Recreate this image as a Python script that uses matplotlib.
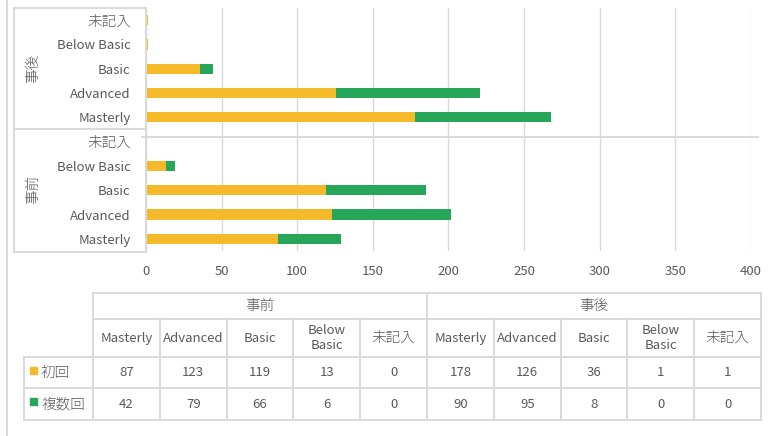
import numpy as np
import matplotlib
matplotlib.use('Agg')
import matplotlib.pyplot as plt
from matplotlib.lines import Line2D
from matplotlib.patches import Rectangle

plt.rcParams['font.family'] = ['Noto Sans CJK JP', 'DejaVu Sans']

# data
groups = ['事前', '事後']
levels = ['Masterly', 'Advanced', 'Basic', 'Below Basic', '未記入']
table_levels = ['Masterly', 'Advanced', 'Basic', 'Below\nBasic', '未記入']
series = ['初回', '複数回']
first_pre = [87, 123, 119, 13, 0]
multi_pre = [42, 79, 66, 6, 0]
first_post = [178, 126, 36, 1, 1]
multi_post = [90, 95, 8, 0, 0]
xticks = [0, 50, 100, 150, 200, 250, 300, 350, 400]

YELLOW = '#F4BA2A'
GREEN = '#27A65A'
TXT = '#595959'
GRID = '#D9D9D9'
FS = 9.5     # latin text
FS_JA = 10.5  # japanese text

W, H = 775, 436
fig = plt.figure(figsize=(W / 100, H / 100), dpi=100)

def px_rect(x0, y0, x1, y1):
    return [x0 / W, 1 - y1 / H, (x1 - x0) / W, (y1 - y0) / H]

def is_ja(s):
    return any(ord(c) > 0x3000 for c in s)

def size_for(s):
    return FS_JA if is_ja(s) else FS

def weight_for(s):
    return 'light' if is_ja(s) else 'normal'

ax = fig.add_axes(px_rect(146, 8, 750.7, 251))

first_all = first_pre + first_post
multi_all = multi_pre + multi_post
ypos = np.arange(len(first_all))
ax.barh(ypos, first_all, height=0.42, color=YELLOW, zorder=3)
ax.barh(ypos, multi_all, left=first_all, height=0.42, color=GREEN, zorder=3)

ax.set_xlim(0, 400)
ax.set_ylim(-0.5, 9.5)
ax.set_xticks(xticks)
ax.set_yticks(ypos)
ax.set_yticklabels(levels + levels)
for lab in ax.get_yticklabels():
    lab.set_fontsize(size_for(lab.get_text()))
    lab.set_fontweight(weight_for(lab.get_text()))
ax.tick_params(axis='x', length=0, pad=10, labelsize=FS, labelcolor=TXT)
ax.tick_params(axis='y', length=0, pad=11, labelcolor=TXT)
ax.grid(axis='x', color=GRID, linewidth=1.0, zorder=0)
for s in ax.spines.values():
    s.set_visible(False)

# overlay in pixel coordinates
ov = fig.add_axes([0, 0, 1, 1], facecolor='none')
ov.set_xlim(0, W)
ov.set_ylim(H, 0)
ov.axis('off')

def hl(x0, x1, y, **kw):
    ov.add_line(Line2D([x0, x1], [y, y], color=GRID, linewidth=1.4, **kw))

def vl(x, y0, y1, **kw):
    ov.add_line(Line2D([x, x], [y0, y1], color=GRID, linewidth=1.4, **kw))

def txt(x, y, s, **kw):
    ov.text(x, y, s, fontsize=size_for(s), fontweight=weight_for(s), color=TXT, **kw)

# chart border left
vl(7, 0, H)

# group label box
hl(14, 146, 8)
hl(14, 146, 129.5)
hl(14, 146, 251.5)
vl(14, 8, 251.5)
vl(146, 8, 251.5)
hl(142, 758, 137.5)
txt(33, 68, groups[1], rotation=90, ha='center', va='center')
txt(33, 189, groups[0], rotation=90, ha='center', va='center')

# data table
tx0, tx1 = 93, 761
lx0 = 24
ncol = 10
cw = (tx1 - tx0) / ncol
r = [293, 319, 357, 388, 420]

hl(tx0, tx1, r[0])
hl(tx0, tx1, r[1])
hl(lx0, tx1, r[2])
hl(lx0, tx1, r[3])
hl(lx0, tx1, r[4])
vl(lx0, r[2], r[4])
vl(tx0, r[0], r[4])
vl(tx1, r[0], r[4])
vl(tx0 + 5 * cw, r[0], r[4])
for k in range(1, ncol):
    if k != 5:
        vl(tx0 + k * cw, r[1], r[4])

for g, name in enumerate(groups):
    cx = tx0 + (g * 5 + 2.5) * cw
    txt(cx, (r[0] + r[1]) / 2, name, ha='center', va='center')

rows = [first_pre + first_post, multi_pre + multi_post]
for k in range(ncol):
    cx = tx0 + (k + 0.5) * cw
    txt(cx, (r[1] + r[2]) / 2, table_levels[k % 5], ha='center', va='center',
        linespacing=1.15)
    for i, vals in enumerate(rows):
        txt(cx, (r[2 + i] + r[3 + i]) / 2, str(vals[k]), ha='center', va='center')

for i, (name, col) in enumerate(zip(series, [YELLOW, GREEN])):
    cy = (r[2 + i] + r[3 + i]) / 2
    ov.add_patch(Rectangle((30, cy - 6), 7, 7, color=col))
    txt(41, cy, name, ha='left', va='center')

fig.savefig('out.png', dpi=100)
